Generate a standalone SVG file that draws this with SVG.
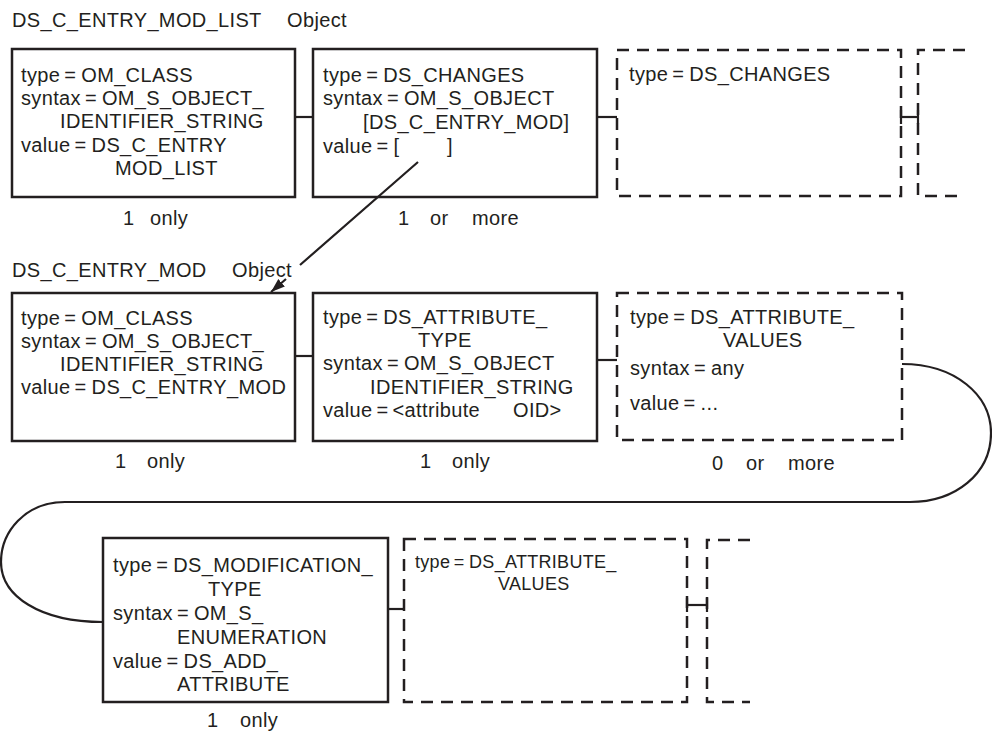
<svg xmlns="http://www.w3.org/2000/svg" width="992" height="732" viewBox="0 0 992 732">
<style>
  text { font-family: "Liberation Sans", Arial, sans-serif; font-size: 20px; fill: #231f20; letter-spacing: 0.35px; }
  text.sm { font-size: 18px; letter-spacing: 0.3px; }
  .box { fill: none; stroke: #231f20; stroke-width: 2.5; }
  .dbox { fill: none; stroke: #231f20; stroke-width: 2.5; stroke-dasharray: 12 8; }
  .conn { fill: none; stroke: #231f20; stroke-width: 2.2; }
</style>
<defs>
  <marker id="arrow" markerUnits="userSpaceOnUse" markerWidth="16" markerHeight="12" refX="14" refY="5" orient="auto">
    <path d="M0,0 L14,5 L0,10 z" fill="#231f20"/>
  </marker>
</defs>
<rect width="992" height="732" fill="#fff"/>

<g id="titles">
  <text x="12" y="27">DS_C_ENTRY_MOD_LIST<tspan x="287">Object</tspan></text>
  <text x="12" y="277">DS_C_ENTRY_MOD<tspan x="232">Object</tspan></text>
</g>

<g id="connectors">
  <line class="conn" x1="295" y1="117" x2="313" y2="117"/>
  <line class="conn" x1="597" y1="117" x2="617" y2="117"/>
  <line class="conn" x1="901" y1="117" x2="918" y2="117"/>
  <line class="conn" x1="901" y1="110" x2="901" y2="124"/>
  <line class="conn" x1="918" y1="110" x2="918" y2="124"/>
  <line class="conn" x1="295" y1="356" x2="313" y2="356"/>
  <line class="conn" x1="597" y1="360" x2="617" y2="360"/>
  <path class="conn" d="M902,364 C955,364 991,395 991,433 C991,474 955,502 910,502 L65,502 C25,502 1,532 1,562 C1,596 40,622 103,622"/>
  <line class="conn" x1="388" y1="609" x2="404" y2="609"/>
  <line class="conn" x1="687" y1="605" x2="707" y2="605"/>
  <line class="conn" x1="687" y1="598" x2="687" y2="612"/>
  <line class="conn" x1="707" y1="598" x2="707" y2="612"/>
  <path class="conn" d="M418,162 L300,265 M286,279 L271,292" marker-end="url(#arrow)"/>
</g>

<g id="entry-mod-list-class">
  <rect class="box" x="12" y="49" width="283" height="148"/>
  <text x="21" y="82">type<tspan dx="4">=</tspan><tspan dx="5">OM_CLASS</tspan></text>
  <text x="21" y="105">syntax<tspan dx="4">=</tspan><tspan dx="5">OM_S_OBJECT_</tspan></text>
  <text x="60" y="128">IDENTIFIER_STRING</text>
  <text x="21" y="152">value<tspan dx="4">=</tspan><tspan dx="5">DS_C_ENTRY</tspan></text>
  <text x="115" y="175">MOD_LIST</text>
  <text x="123" y="225">1<tspan x="150">only</tspan></text>
</g>

<g id="changes">
  <rect class="box" x="313" y="49" width="284" height="148"/>
  <text x="323" y="82">type<tspan dx="4">=</tspan><tspan dx="5">DS_CHANGES</tspan></text>
  <text x="323" y="105">syntax<tspan dx="4">=</tspan><tspan dx="5">OM_S_OBJECT</tspan></text>
  <text x="363" y="129">[DS_C_ENTRY_MOD]</text>
  <text x="323" y="153">value<tspan dx="4">=</tspan><tspan dx="5">[</tspan><tspan x="447">]</tspan></text>
  <text x="398" y="225">1<tspan x="430">or</tspan><tspan x="472">more</tspan></text>
</g>

<g id="changes-2">
  <rect class="dbox" x="617" y="50" width="284" height="146"/>
  <text x="629" y="81">type<tspan dx="4">=</tspan><tspan dx="5">DS_CHANGES</tspan></text>
</g>

<g id="changes-3">
  <path class="dbox" d="M965,50 H918 V196 H965"/>
</g>

<g id="entry-mod-class">
  <rect class="box" x="12" y="293" width="283" height="148"/>
  <text x="21" y="325">type<tspan dx="4">=</tspan><tspan dx="5">OM_CLASS</tspan></text>
  <text x="21" y="348">syntax<tspan dx="4">=</tspan><tspan dx="5">OM_S_OBJECT_</tspan></text>
  <text x="60" y="371">IDENTIFIER_STRING</text>
  <text x="21" y="394">value<tspan dx="4">=</tspan><tspan dx="5">DS_C_ENTRY_MOD</tspan></text>
  <text x="115" y="468">1<tspan x="147">only</tspan></text>
</g>

<g id="attribute-type">
  <rect class="box" x="313" y="293" width="284" height="148"/>
  <text x="323" y="324">type<tspan dx="4">=</tspan><tspan dx="5">DS_ATTRIBUTE_</tspan></text>
  <text x="418" y="347">TYPE</text>
  <text x="323" y="370">syntax<tspan dx="4">=</tspan><tspan dx="5">OM_S_OBJECT</tspan></text>
  <text x="370" y="394">IDENTIFIER_STRING</text>
  <text x="323" y="417">value<tspan dx="4">=</tspan><tspan dx="4">&lt;attribute</tspan><tspan x="513">OID&gt;</tspan></text>
  <text x="420" y="468">1<tspan x="452">only</tspan></text>
</g>

<g id="attribute-values">
  <rect class="dbox" x="617" y="293" width="285" height="147"/>
  <text x="630" y="324">type<tspan dx="4">=</tspan><tspan dx="5">DS_ATTRIBUTE_</tspan></text>
  <text x="723" y="347">VALUES</text>
  <text x="630" y="375">syntax<tspan dx="4">=</tspan><tspan dx="5">any</tspan></text>
  <text x="630" y="410">value<tspan dx="4">=</tspan><tspan dx="5">...</tspan></text>
  <text x="712" y="470">0<tspan x="746">or</tspan><tspan x="788">more</tspan></text>
</g>

<g id="modification-type">
  <rect class="box" x="103" y="538" width="285" height="164"/>
  <text x="113" y="572">type<tspan dx="4">=</tspan><tspan dx="5">DS_MODIFICATION_</tspan></text>
  <text x="208" y="596">TYPE</text>
  <text x="113" y="620">syntax<tspan dx="4">=</tspan><tspan dx="5">OM_S_</tspan></text>
  <text x="177" y="644">ENUMERATION</text>
  <text x="113" y="668">value<tspan dx="4">=</tspan><tspan dx="5">DS_ADD_</tspan></text>
  <text x="177" y="691">ATTRIBUTE</text>
  <text x="207" y="727">1<tspan x="240">only</tspan></text>
</g>

<g id="attribute-values-2">
  <rect class="dbox" x="404" y="539" width="283" height="163"/>
  <text class="sm" x="415" y="568">type<tspan dx="3.5">=</tspan><tspan dx="4.5">DS_ATTRIBUTE_</tspan></text>
  <text class="sm" x="498" y="590">VALUES</text>
</g>

<g id="attribute-values-3">
  <path class="dbox" d="M750,540 H707 V702 H750"/>
</g>
</svg>
